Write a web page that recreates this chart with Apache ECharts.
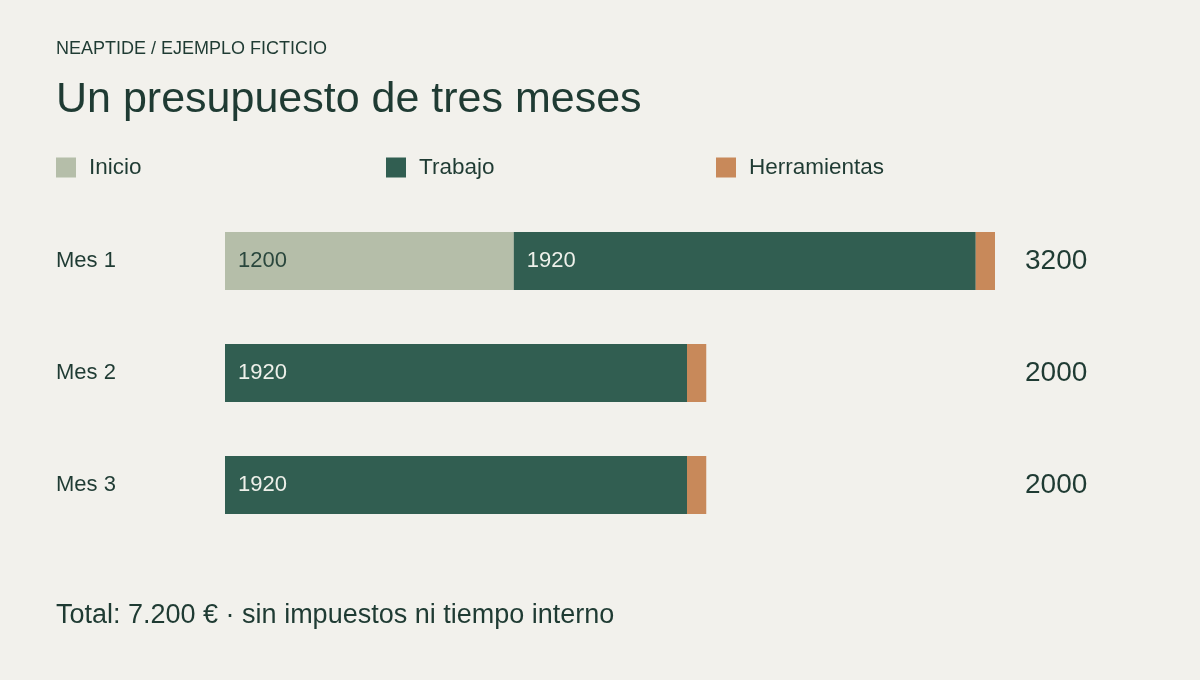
<!DOCTYPE html>
<html>
<head>
<meta charset="utf-8">
<script src="https://cdn.jsdelivr.net/npm/echarts@6/dist/echarts.min.js"></script>
<style>
html,body{margin:0;padding:0;background:#f2f1ec;}
#c{width:1200px;height:680px;}
</style>
</head>
<body>
<div id="c"></div>
<script>
const categories = ['Mes 1', 'Mes 2', 'Mes 3'];
const inicio = [1200, 0, 0];
const trabajo = [1920, 1920, 1920];
const herramientas = [80, 80, 80];
const seriesNames = ['Inicio', 'Trabajo', 'Herramientas'];
const kicker = 'NEAPTIDE / EJEMPLO FICTICIO';
const titleText = 'Un presupuesto de tres meses';
const footerText = 'Total: 7.200 € · sin impuestos ni tiempo interno';

const totals = categories.map((_, i) => inicio[i] + trabajo[i] + herramientas[i]);
const FONT = '"Liberation Sans", Arial, sans-serif';
const DARK = '#1f3b33';
const colors = ['#b5bea9', '#315e51', '#c8895a'];

const chart = echarts.init(document.getElementById('c'), null, {renderer: 'canvas'});
const legendLefts = [56, 386, 716];
const option = {
  backgroundColor: '#f2f1ec',
  animation: false,
  textStyle: {fontFamily: FONT},
  title: [
    {text: kicker, left: 56, top: 40, padding: 0,
     textStyle: {fontFamily: FONT, fontSize: 18, fontWeight: 'normal', color: DARK}},
    {text: titleText, left: 56, top: 79, padding: 0,
     textStyle: {fontFamily: FONT, fontSize: 43, fontWeight: 'normal', color: DARK}},
    {text: footerText, left: 56, top: 602, padding: 0,
     textStyle: {fontFamily: FONT, fontSize: 27, fontWeight: 'normal', color: DARK}}
  ],
  legend: seriesNames.map((n, i) => ({
    data: [n], left: legendLefts[i], top: 156, padding: 0,
    itemWidth: 20, itemHeight: 20, icon: 'rect', selectedMode: false,
    textStyle: {fontFamily: FONT, fontSize: 22.5, color: DARK, padding: [0, 0, 0, 8]}
  })),
  grid: {left: 225, right: 205, top: 205, bottom: 139, containLabel: false},
  xAxis: {
    type: 'value', min: 0, max: Math.max(...totals),
    show: false
  },
  yAxis: [
    {
      type: 'category', data: categories, inverse: true,
      axisLine: {show: false}, axisTick: {show: false}, splitLine: {show: false},
      axisLabel: {align: 'left', margin: 169, fontFamily: FONT, fontSize: 22, color: DARK, padding: [0, 0, 4, 0]}
    },
    {
      type: 'category', data: totals.map(String), inverse: true, position: 'right',
      axisLine: {show: false}, axisTick: {show: false}, splitLine: {show: false},
      axisLabel: {align: 'left', margin: 30, fontFamily: FONT, fontSize: 28, color: DARK, padding: [2, 0, 0, 0]}
    }
  ],
  series: [
    {
      name: seriesNames[0], type: 'bar', stack: 't', data: inicio, barWidth: 58,
      itemStyle: {color: colors[0]},
      label: {show: true, position: 'insideLeft', distance: 13, fontFamily: FONT, fontSize: 22, color: '#2a473d',
        padding: [2, 0, 0, 0], formatter: p => p.value ? String(p.value) : ''}
    },
    {
      name: seriesNames[1], type: 'bar', stack: 't', data: trabajo, barWidth: 58,
      itemStyle: {color: colors[1]},
      label: {show: true, position: 'insideLeft', distance: 13, fontFamily: FONT, fontSize: 22, color: '#eef0ea',
        padding: [2, 0, 0, 0], formatter: p => p.value ? String(p.value) : ''}
    },
    {
      name: seriesNames[2], type: 'bar', stack: 't', data: herramientas, barWidth: 58,
      itemStyle: {color: colors[2]},
      label: {show: false}
    }
  ]
};
chart.setOption(option);
</script>
</body>
</html>
